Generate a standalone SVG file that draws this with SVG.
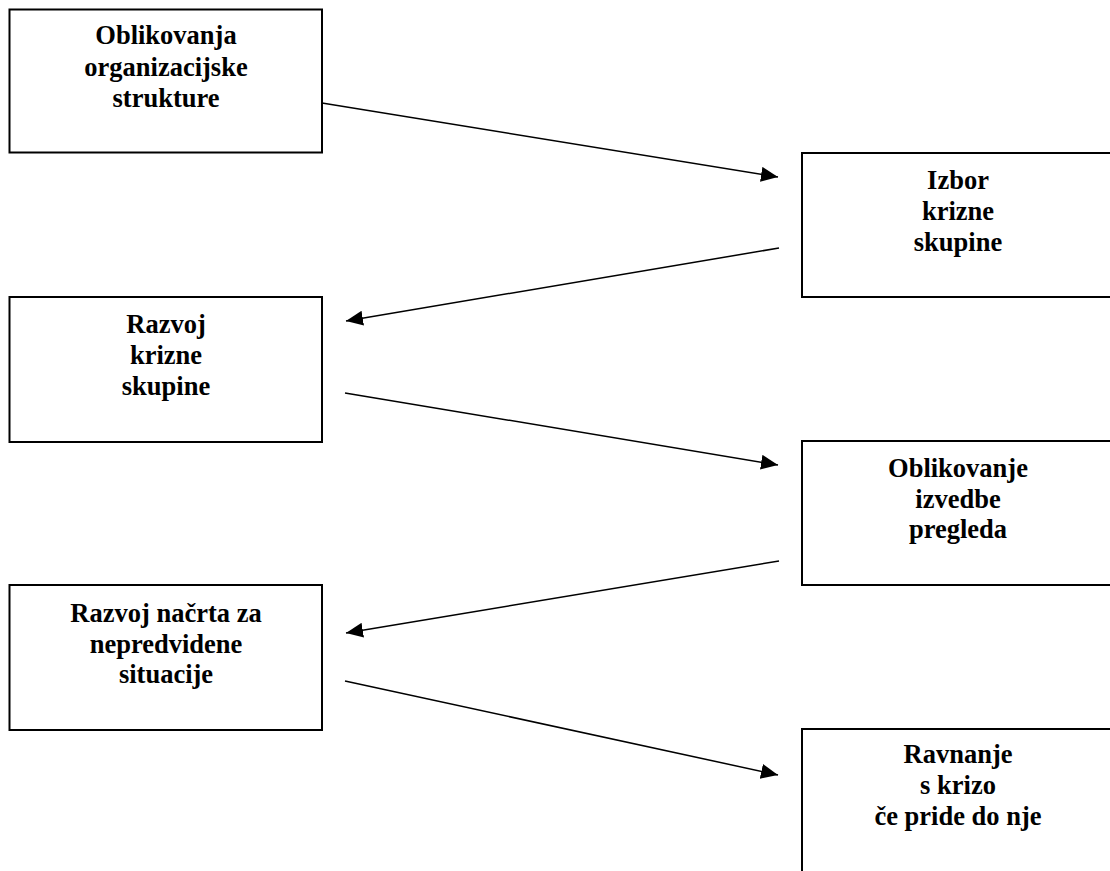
<svg xmlns="http://www.w3.org/2000/svg" width="1110" height="871" viewBox="0 0 1110 871">
<style>
.box{fill:#fff;stroke:#000;stroke-width:2}
.t{font-family:"Liberation Serif","Times New Roman",serif;font-weight:bold;font-size:26.5px;text-anchor:middle;fill:#000}
.c{stroke:#000;stroke-width:1.5;fill:none;marker-end:url(#ah)}
</style>
<defs>
<marker id="ah" markerUnits="userSpaceOnUse" markerWidth="18" markerHeight="15" refX="17" refY="7.5" orient="auto">
<path d="M0,0 L17,7.5 L0,15 z" fill="#000"/>
</marker>
</defs>
<rect width="1110" height="871" fill="#fff"/>
<g id="connectors">
<line class="c" x1="322" y1="103" x2="778" y2="177"/>
<line class="c" x1="779" y1="248" x2="346" y2="321"/>
<line class="c" x1="345" y1="393" x2="778" y2="465"/>
<line class="c" x1="779" y1="561" x2="346" y2="633"/>
<line class="c" x1="345" y1="681" x2="778" y2="775"/>
</g>
<g id="n1">
<rect class="box" x="9.5" y="9.5" width="312.5" height="143"/>
<text class="t" x="166" y="44">Oblikovanja</text>
<text class="t" x="166" y="76">organizacijske</text>
<text class="t" x="166" y="107">strukture</text>
</g>
<g id="n2">
<rect class="box" x="802" y="153" width="312" height="144"/>
<text class="t" x="958" y="189">Izbor</text>
<text class="t" x="958" y="220">krizne</text>
<text class="t" x="958" y="251">skupine</text>
</g>
<g id="n3">
<rect class="box" x="9.5" y="297" width="312.5" height="145"/>
<text class="t" x="166" y="333">Razvoj</text>
<text class="t" x="166" y="364">krizne</text>
<text class="t" x="166" y="395">skupine</text>
</g>
<g id="n4">
<rect class="box" x="802" y="441" width="312" height="144"/>
<text class="t" x="958" y="477">Oblikovanje</text>
<text class="t" x="958" y="508">izvedbe</text>
<text class="t" x="958" y="538">pregleda</text>
</g>
<g id="n5">
<rect class="box" x="9.5" y="585" width="312.5" height="145"/>
<text class="t" x="166" y="622">Razvoj načrta za</text>
<text class="t" x="166" y="653">nepredvidene</text>
<text class="t" x="166" y="683">situacije</text>
</g>
<g id="n6">
<rect class="box" x="802" y="729" width="312" height="150"/>
<text class="t" x="958" y="763">Ravnanje</text>
<text class="t" x="958" y="794">s krizo</text>
<text class="t" x="958" y="825">če pride do nje</text>
</g>
</svg>
